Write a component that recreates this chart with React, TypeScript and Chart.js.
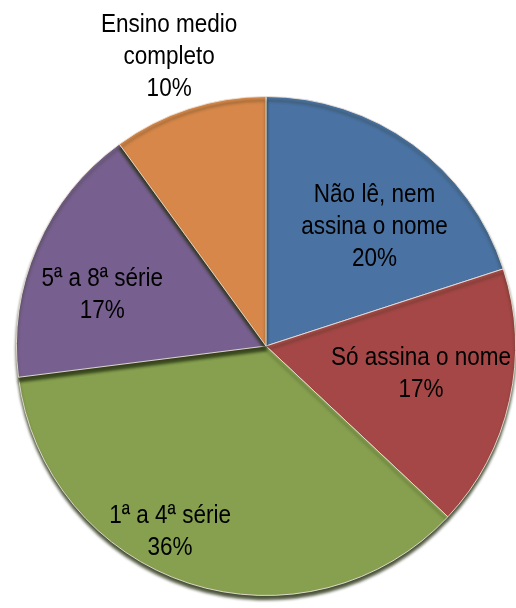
import React, { useEffect, useRef } from "react";
import { Chart, registerables } from "chart.js";

Chart.register(...registerables);

const categories: string[][] = [
  ["Não lê, nem", "assina o nome"],
  ["Só assina o nome"],
  ["1ª a 4ª série"],
  ["5ª a 8ª série"],
  ["Ensino medio", "completo"],
];
const values: number[] = [20, 17, 36, 17, 10];
const colors: string[] = ["#4A72A3", "#A64747", "#86A04F", "#77608F", "#D8874A"];

// label placement style (radial fraction of radius, angle tweak in degrees)
const labelRadius: number[] = [0.65, 0.63, 0.83, 0.69, 1.23];
const labelAngleTweak: number[] = [6, -3, 9.6, -5.4, -0.4];

const labelPlugin = {
  id: "sliceLabels",
  beforeDatasetsDraw(chart: any) {
    const ctx = chart.ctx;
    ctx.save();
    ctx.shadowColor = "rgba(40,50,20,0.85)";
    ctx.shadowBlur = 3;
    ctx.shadowOffsetY = 4;
  },
  afterDatasetsDraw(chart: any) {
    const ctx = chart.ctx;
    ctx.restore();
    const meta = chart.getDatasetMeta(0);
    const total = values.reduce((a, b) => a + b, 0);
    ctx.save();
    ctx.fillStyle = "#000";
    ctx.textAlign = "center";
    ctx.textBaseline = "alphabetic";
    ctx.font = '25px "Liberation Sans", Arial, sans-serif';
    const lineH = 32;
    meta.data.forEach((arc: any, i: number) => {
      const mid = (arc.startAngle + arc.endAngle) / 2 + (labelAngleTweak[i] * Math.PI) / 180;
      const r = arc.outerRadius * labelRadius[i];
      const cx = arc.x + Math.cos(mid) * r;
      const cy = arc.y + Math.sin(mid) * r;
      const lines = [...categories[i], Math.round((values[i] / total) * 100) + "%"];
      const blockH = (lines.length - 1) * lineH + 18;
      const firstBase = cy - blockH / 2 + 18;
      lines.forEach((t, j) => {
        ctx.save();
        ctx.translate(cx, firstBase + j * lineH);
        ctx.scale(0.9, 1);
        ctx.fillText(t, 0, 0);
        ctx.restore();
      });
    });
    ctx.restore();
  },
};

export default function App() {
  const ref = useRef<HTMLCanvasElement>(null);
  useEffect(() => {
    if (!ref.current) return;
    const chart = new Chart(ref.current, {
      type: "pie",
      data: {
        labels: categories.map((c) => c.join(" ")),
        datasets: [
          {
            data: values,
            backgroundColor: colors,
            borderColor: "rgba(235,225,215,0.9)",
            borderWidth: 1,
          },
        ],
      },
      options: {
        responsive: false,
        animation: false,
        layout: { padding: { left: 16, top: 96, right: 0, bottom: 12 } },
        plugins: {
          legend: { display: false },
          tooltip: { enabled: false },
        },
      },
      plugins: [labelPlugin],
    });
    return () => chart.destroy();
  }, []);
  return (
    <div style={{ position: "absolute", left: 0, top: 0, width: 516, height: 608, background: "#fff" }}>
      <canvas ref={ref} width={516} height={608} style={{ display: "block" }} />
    </div>
  );
}
